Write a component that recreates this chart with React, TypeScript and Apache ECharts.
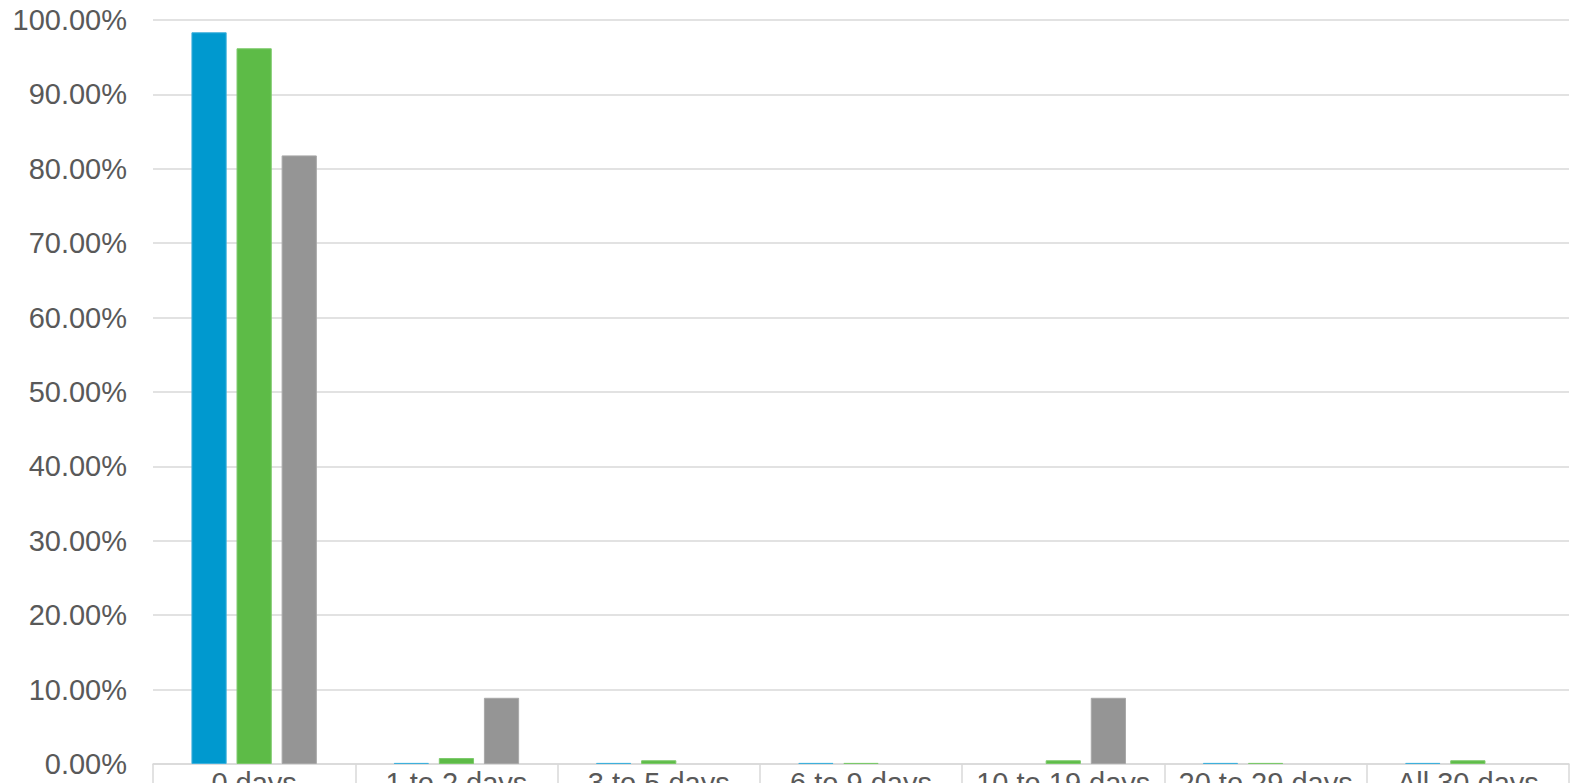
import React, { useEffect, useRef } from "react";
import * as echarts from "echarts";

const categories = ["0 days", "1 to 2 days", "3 to 5 days", "6 to 9 days", "10 to 19 days", "20 to 29 days", "All 30 days"];
const seriesBlue = [98.35, 0.15, 0.15, 0.15, 0, 0.15, 0.15];
const seriesGreen = [96.2, 0.8, 0.5, 0.15, 0.5, 0.15, 0.5];
const seriesGray = [81.8, 8.9, 0, 0, 8.9, 0, 0];

export default function App() {
  const ref = useRef<HTMLDivElement>(null);
  useEffect(() => {
    if (!ref.current) return;
    const chart = echarts.init(ref.current, undefined, { renderer: "svg" });
    const font = "'Liberation Sans', Arial, Helvetica, sans-serif";
    const mk = (name: string, data: number[], color: string, border: string) => ({
      name,
      type: "bar",
      data: data.map((v) => (v === 0 ? null : v)),
      itemStyle: { color, borderColor: border, borderWidth: 1 },
      barGap: "28%",
      barCategoryGap: "38%",
    });
    chart.setOption({
      animation: false,
      backgroundColor: "#ffffff",
      grid: { left: 153, right: 5, top: 20, bottom: 19, containLabel: false, outerBoundsMode: "none" },
      xAxis: {
        type: "category",
        data: categories,
        axisLine: { show: true, lineStyle: { color: "#d9d9d9", width: 1.5 } },
        axisTick: { show: true, alignWithLabel: false, length: 30, lineStyle: { color: "#d9d9d9", width: 1.5 } },
        axisLabel: { color: "#595959", fontSize: 29, fontFamily: font, margin: 4, interval: 0 },
      },
      yAxis: {
        type: "value",
        min: 0,
        max: 100,
        interval: 10,
        axisLine: { show: false },
        axisTick: { show: false },
        splitLine: { lineStyle: { color: "#d9d9d9", width: 1.5 } },
        axisLabel: {
          color: "#595959",
          fontSize: 29,
          fontFamily: font,
          margin: 26,
          formatter: (v: number) => v.toFixed(2) + "%",
        },
      },
      series: [
        mk("Blue", seriesBlue, "#0099cf", "#3fb0dc"),
        mk("Green", seriesGreen, "#5dbb47", "#7cc96a"),
        mk("Gray", seriesGray, "#959595", "#a8a8a8"),
      ],
    });
    return () => chart.dispose();
  }, []);
  return (
    <div
      ref={ref}
      style={{ position: "fixed", left: 0, top: 0, width: 1574, height: 783, background: "#fff" }}
    />
  );
}
